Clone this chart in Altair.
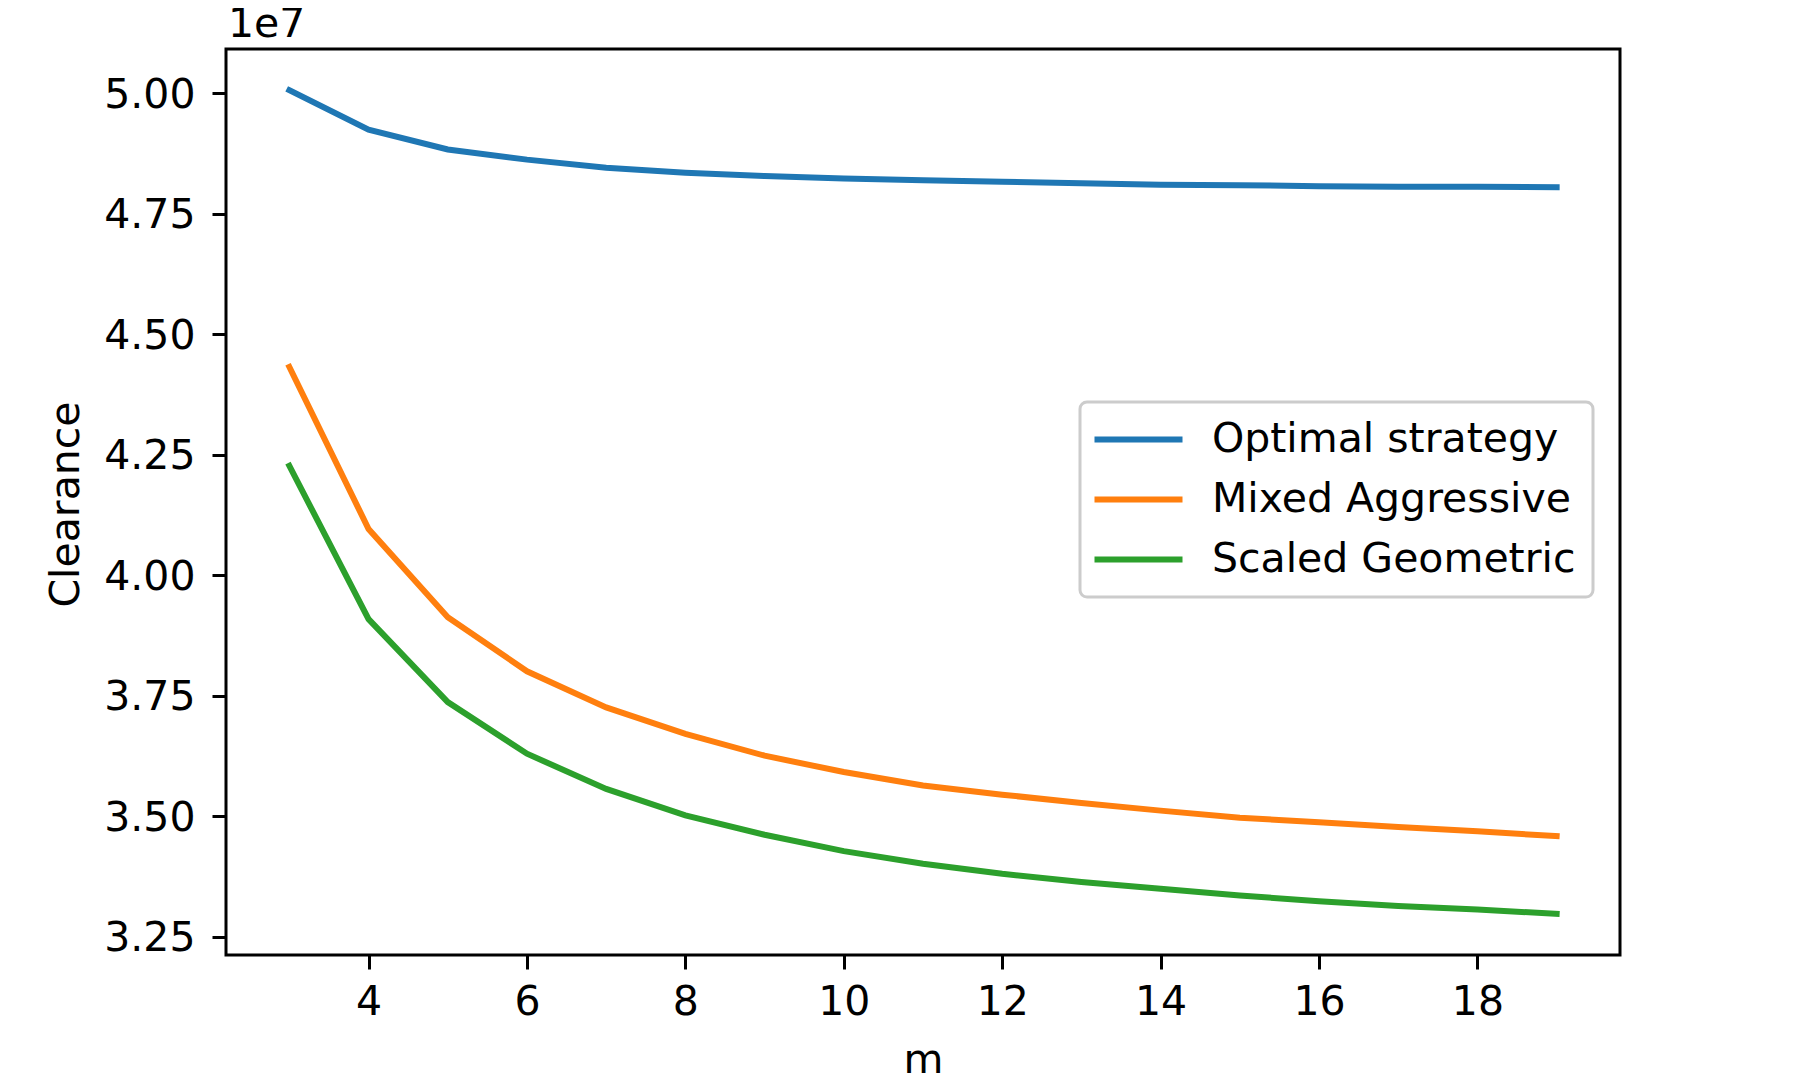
import altair as alt
import pandas as pd

m_values = list(range(3, 20))
optimal = [5.006e7, 4.924e7, 4.883e7, 4.862e7, 4.845e7, 4.835e7, 4.828e7, 4.823e7, 4.819e7,
           4.816e7, 4.813e7, 4.810e7, 4.809e7, 4.807e7, 4.806e7, 4.806e7, 4.805e7]
mixed = [4.432e7, 4.096e7, 3.913e7, 3.801e7, 3.726e7, 3.671e7, 3.626e7, 3.592e7, 3.564e7,
         3.545e7, 3.528e7, 3.512e7, 3.497e7, 3.488e7, 3.478e7, 3.469e7, 3.459e7]
scaled = [4.227e7, 3.909e7, 3.737e7, 3.630e7, 3.557e7, 3.502e7, 3.462e7, 3.428e7, 3.402e7,
          3.381e7, 3.364e7, 3.350e7, 3.336e7, 3.324e7, 3.314e7, 3.307e7, 3.298e7]
series_names = ["Optimal strategy", "Mixed Aggressive", "Scaled Geometric"]
series_colors = ["#1f77b4", "#ff7f0e", "#2ca02c"]
x_ticks = [4, 6, 8, 10, 12, 14, 16, 18]
y_ticks = [3.25e7, 3.5e7, 3.75e7, 4.0e7, 4.25e7, 4.5e7, 4.75e7, 5.0e7]
offset_label = ["1e7"]

rows = []
for name, vals in zip(series_names, [optimal, mixed, scaled]):
    for m, v in zip(m_values, vals):
        rows.append({"m": m, "Clearance": v, "series": name})
df = pd.DataFrame(rows)

FONT = "DejaVu Sans"
FS = 41

lines = alt.Chart(df).mark_line(strokeWidth=6, strokeCap="square").encode(
    x=alt.X("m:Q",
            scale=alt.Scale(domain=[2.2, 19.8], nice=False, zero=False),
            axis=alt.Axis(values=x_ticks, title="m", titleY=117,
                          titleBaseline="alphabetic", labelPadding=13)),
    y=alt.Y("Clearance:Q",
            scale=alt.Scale(domain=[3.2126e7, 5.0914e7], nice=False, zero=False),
            axis=alt.Axis(values=y_ticks, title="Clearance",
                          labelExpr="format(datum.value / 1e7, '.2f')",
                          titleX=-148, titleY=455, titleAngle=270,
                          titleBaseline="alphabetic", labelPadding=17, labelOffset=2)),
    color=alt.Color("series:N",
                    scale=alt.Scale(domain=series_names, range=series_colors),
                    legend=alt.Legend(orient="none", legendX=854, legendY=353, title=None,
                                      symbolType="M-4,0H4", symbolSize=484,
                                      symbolStrokeWidth=6, symbolOffset=21,
                                      labelOffset=53, labelLimit=1000,
                                      padding=17, rowPadding=18,
                                      fillColor="white", strokeColor="#cccccc",
                                      cornerRadius=7, labelFont=FONT,
                                      labelFontSize=FS, labelColor="black")),
)

offset_text = alt.Chart(pd.DataFrame({"t": offset_label})).mark_text(
    align="left", baseline="alphabetic", font=FONT, fontSize=FS, color="black"
).encode(
    text="t:N",
    x=alt.value(2),
    y=alt.value(-12),
)

chart = alt.layer(lines, offset_text).properties(
    width=1394,
    height=906,
    autosize=alt.AutoSizeParams(type="none"),
    padding={"left": 218, "top": 41, "right": 150, "bottom": 122},
).configure_view(
    stroke="black", strokeWidth=3
).configure_legend(
    strokeWidth=3
).configure_axis(
    grid=False, domain=False, tickColor="black", tickWidth=3, tickSize=14,
    labelFont=FONT, labelFontSize=FS, labelColor="black",
    titleFont=FONT, titleFontSize=FS, titleColor="black", titleFontWeight="normal",
)

chart.save("out.html", embed_options={"renderer": "svg", "actions": False})
